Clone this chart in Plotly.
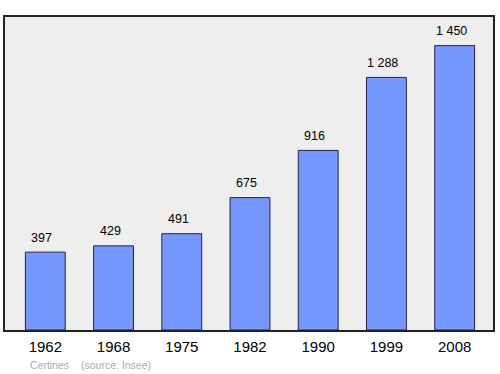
import plotly.graph_objects as go

years = ["1962", "1968", "1975", "1982", "1990", "1999", "2008"]
population = [397, 429, 491, 675, 916, 1288, 1450]
labels = ["397", "429", "491", "675", "916", "1 288", "1 450"]

FONT = "Liberation Sans, Arial"
fig = go.Figure()
fig.add_trace(go.Bar(
    x=years, y=population, width=0.584,
    marker=dict(color="#7799ff", line=dict(color="#222244", width=1)),
    hoverinfo="skip",
))
for i, (v, t) in enumerate(zip(population, labels)):
    fig.add_annotation(x=i, y=v, text=t, showarrow=False, yshift=14.5, xshift=-3.5,
                       font=dict(family=FONT, size=12.5, color="#000"))

plot_h = 374 - 17 - 44
plot_w = 490
fy = (330 - 364.5) / plot_h
fig.add_annotation(x=(50 - 5) / plot_w, y=fy, xref="paper", yref="paper", text="Certines",
                   showarrow=False, font=dict(family=FONT, size=10.5, color="#aaa"),
                   xanchor="center", yanchor="middle")
fig.add_annotation(x=(116 - 5) / plot_w, y=fy, xref="paper", yref="paper", text="(source: Insee)",
                   showarrow=False, font=dict(family=FONT, size=10.5, color="#aaa"),
                   xanchor="center", yanchor="middle")

fig.update_layout(
    width=500, height=374,
    margin=dict(l=5, r=5, t=17, b=44),
    paper_bgcolor="white", plot_bgcolor="#eeeeee",
    showlegend=False,
    xaxis=dict(type="category", range=[-0.591, 6.562], showgrid=False, zeroline=False,
               showline=True, mirror=True, linecolor="#222", linewidth=1.5,
               ticks="", ticklabelstandoff=2,
               tickfont=dict(family=FONT, size=15, color="#000")),
    yaxis=dict(range=[0, 1596], showgrid=False, zeroline=False, showticklabels=False,
               showline=True, mirror=True, linecolor="#222", linewidth=1.5, ticks=""),
)
fig.write_html("out.html")
